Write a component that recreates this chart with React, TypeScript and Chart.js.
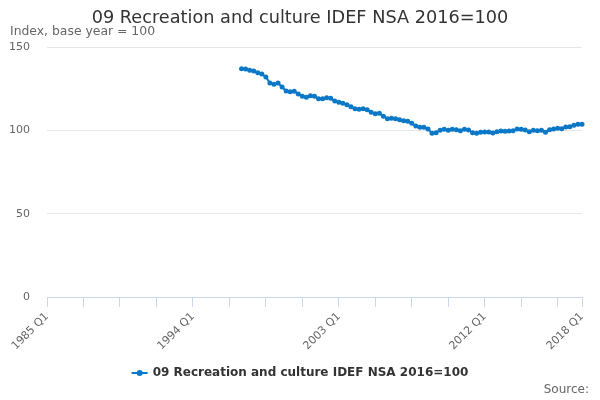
import { useEffect, useRef } from 'react';
import { Chart, registerables } from 'chart.js';

Chart.register(...registerables);

const TITLE = '09 Recreation and culture IDEF NSA 2016=100';
const SUBTITLE = 'Index, base year = 100';
const SERIES_NAME = '09 Recreation and culture IDEF NSA 2016=100';
const SOURCE = 'Source:';

const FIRST_YEAR = 1985;
const LAST_YEAR = 2018;
const quarters: string[] = [];
for (let y = FIRST_YEAR; y <= LAST_YEAR; y++) {
  for (let q = 1; q <= 4; q++) {
    if (y === LAST_YEAR && q > 1) break;
    quarters.push(`${y} Q${q}`);
  }
}

const DATA_START = '1997 Q1';
const values = [
  137, 136.8, 136, 135.6, 134.5, 133.8, 132, 128.4, 127.6, 128.4,
  126, 123.6, 123.2, 123.4, 121.8, 120.4, 119.8, 120.8, 120.4, 119,
  119, 119.6, 119.2, 117.6, 116.8, 116.2, 115.4, 114.2, 113, 112.6,
  113, 112.4, 110.8, 110, 110.2, 108.4, 107, 107.2, 107, 106.4,
  105.8, 105.4, 104.2, 102.6, 101.8, 101.8, 100.8, 98.2, 98.6, 100,
  100.6, 100, 100.6, 100.4, 99.8, 100.6, 100.2, 98.6, 98.2, 98.8,
  99, 99, 98.4, 99.2, 99.6, 99.4, 99.6, 99.8, 100.8, 100.6,
  100.2, 99.2, 100, 99.8, 100, 98.8, 100.4, 100.8, 101.2, 101,
  102, 102.2, 103, 103.6, 103.6,
];

const Y_MIN = 0;
const Y_MAX = 150;
const Y_STEP = 50;
const X_TICK_EVERY = 9;
const X_LABEL_EVERY = 36;

const LINE_COLOR = '#0a78c6';

export default function App() {
  const ref = useRef<HTMLCanvasElement | null>(null);

  useEffect(() => {
    if (!ref.current) return;
    Chart.defaults.font.family = '"DejaVu Sans", sans-serif';
    const startIdx = quarters.indexOf(DATA_START);
    const lastIdx = quarters.length - 1;

    const overlay = {
      id: 'overlayTexts',
      afterDraw(chart: any) {
        const ctx = chart.ctx as CanvasRenderingContext2D;
        const w = chart.width;
        ctx.save();
        ctx.textBaseline = 'middle';
        // title
        ctx.fillStyle = '#333333';
        ctx.font = '17.7px "DejaVu Sans"';
        ctx.textAlign = 'center';
        ctx.fillText(TITLE, w / 2, 18);
        // subtitle
        ctx.fillStyle = '#666666';
        ctx.font = '12.4px "DejaVu Sans"';
        ctx.textAlign = 'left';
        ctx.fillText(SUBTITLE, 10, 32);
        // legend
        ctx.font = 'bold 12px "DejaVu Sans"';
        const tw = ctx.measureText(SERIES_NAME).width;
        const sym = 16;
        const gap = 5;
        const total = sym + gap + tw;
        const lx = w / 2 - total / 2;
        const ly = 373;
        ctx.strokeStyle = LINE_COLOR;
        ctx.lineWidth = 2;
        ctx.beginPath();
        ctx.moveTo(lx, ly);
        ctx.lineTo(lx + sym, ly);
        ctx.stroke();
        ctx.fillStyle = LINE_COLOR;
        ctx.beginPath();
        ctx.arc(lx + sym / 2, ly, 3, 0, Math.PI * 2);
        ctx.fill();
        ctx.fillStyle = '#333333';
        ctx.textAlign = 'left';
        ctx.fillText(SERIES_NAME, lx + sym + gap, ly);
        // source
        ctx.fillStyle = '#666666';
        ctx.font = '12px "DejaVu Sans"';
        ctx.textAlign = 'right';
        ctx.fillText(SOURCE, w - 11, 390);
        ctx.restore();
      },
    };

    const chart = new Chart(ref.current, {
      type: 'line',
      data: {
        labels: quarters,
        datasets: [
          {
            label: SERIES_NAME,
            data: values.map((v, i) => ({ x: quarters[startIdx + i], y: v })) as any,
            borderColor: LINE_COLOR,
            backgroundColor: LINE_COLOR,
            borderWidth: 2,
            pointRadius: 2.5,
            pointHoverRadius: 3,
            pointBorderWidth: 0,
            tension: 0,
          },
        ],
      },
      options: {
        responsive: true,
        maintainAspectRatio: false,
        animation: false,
        layout: { padding: { top: 47, right: 18, bottom: 43, left: 0 } },
        plugins: {
          legend: { display: false },
          title: { display: false },
          tooltip: { enabled: false },
        },
        scales: {
          x: {
            type: 'category',
            offset: false,
            afterFit: (scale: any) => {
              scale.height = 60;
            },
            border: { display: true, color: '#ccd6eb', width: 1 },
            grid: {
              display: true,
              drawOnChartArea: false,
              drawTicks: true,
              tickLength: 10,
              color: '#ccd6eb',
            },
            ticks: {
              autoSkip: false,
              minRotation: 45,
              maxRotation: 45,
              padding: 3,
              color: '#666666',
              font: { size: 11 },
              callback: (_v: any, index: number) => {
                if (index % X_LABEL_EVERY === 0 || index === lastIdx) return quarters[index];
                if (index % X_TICK_EVERY === 0) return '';
                return null;
              },
            },
          },
          y: {
            min: Y_MIN,
            max: Y_MAX,
            afterFit: (scale: any) => {
              scale.width = 47;
            },
            border: { display: false },
            grid: { color: '#e6e6e6', drawTicks: false, lineWidth: 1 },
            ticks: {
              stepSize: Y_STEP,
              padding: 17,
              color: '#666666',
              font: { size: 11 },
            },
          },
        },
      },
      plugins: [overlay],
    });
    return () => chart.destroy();
  }, []);

  return (
    <div style={{ position: 'fixed', left: 0, top: 0, width: 600, height: 400 }}>
      <canvas ref={ref} />
    </div>
  );
}
